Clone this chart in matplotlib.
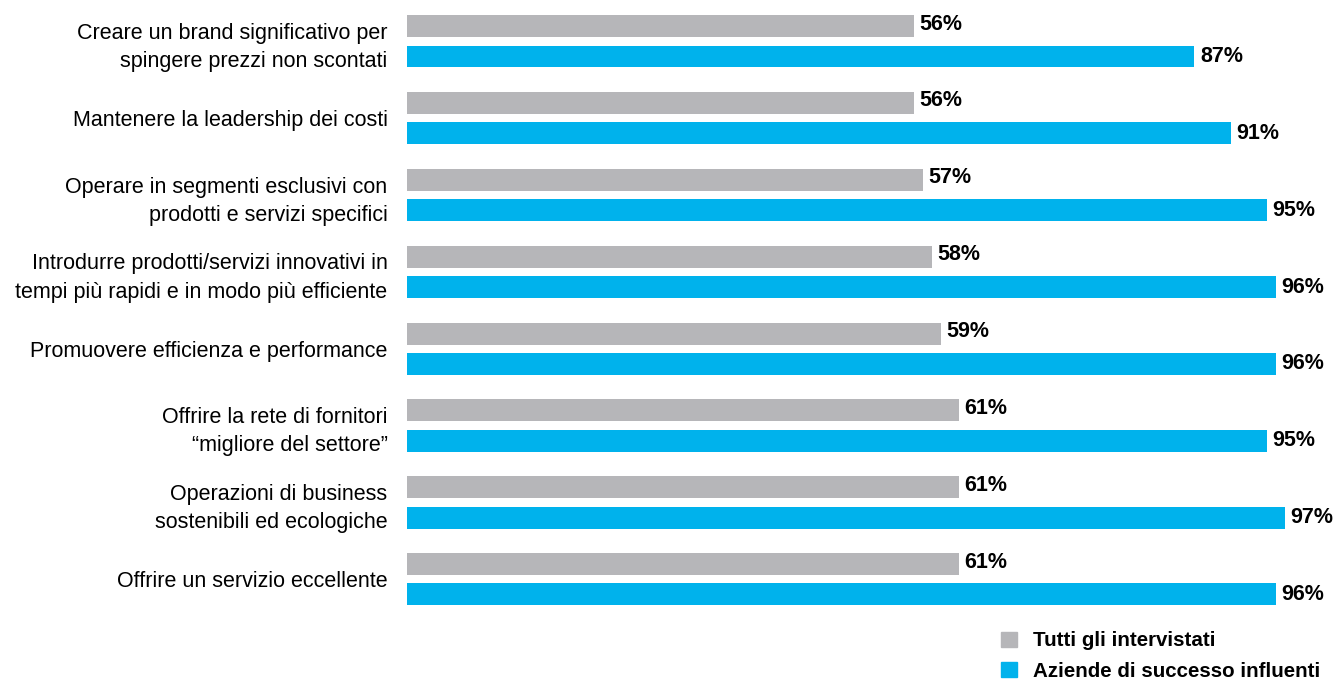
import matplotlib.pyplot as plt
from matplotlib.patches import Patch
import numpy as np

plt.rcParams["font.family"] = ["Liberation Sans", "DejaVu Sans"]

categories = [
    "Creare un brand significativo per\nspingere prezzi non scontati",
    "Mantenere la leadership dei costi",
    "Operare in segmenti esclusivi con\nprodotti e servizi specifici",
    "Introdurre prodotti/servizi innovativi in\ntempi più rapidi e in modo più efficiente",
    "Promuovere efficienza e performance",
    "Offrire la rete di fornitori\n\u201cmigliore del settore\u201d",
    "Operazioni di business\nsostenibili ed ecologiche",
    "Offrire un servizio eccellente",
]
tutti = [56, 56, 57, 58, 59, 61, 61, 61]
aziende = [87, 91, 95, 96, 96, 95, 97, 96]
series_names = ["Tutti gli intervistati", "Aziende di successo influenti"]

GRAY = "#b6b6b9"
BLUE = "#00b2ec"
FS = 15.5

W, H = 1338, 681
fig = plt.figure(figsize=(W / 100, H / 100), dpi=100)
ax = fig.add_axes([407 / W, 1 - 620 / H, 905 / W, 620 / H])

y = np.arange(len(categories))
off = 0.197
bh = 0.285
ax.barh(y - off, tutti, height=bh, color=GRAY)
ax.barh(y + off, aziende, height=bh, color=BLUE)

for yi, v in zip(y - off, tutti):
    ax.annotate(f"{v}%", xy=(v, yi), xytext=(4, 1.5), textcoords="offset points",
                va="center", ha="left", fontsize=FS, fontweight="bold")
for yi, v in zip(y + off, aziende):
    ax.annotate(f"{v}%", xy=(v, yi), xytext=(4, 0), textcoords="offset points",
                va="center", ha="left", fontsize=FS, fontweight="bold")

ax.set_xlim(0, 100)
ax.set_ylim(7.53, -0.538)
ax.set_yticks(y)
ax.set_yticklabels(categories, fontsize=FS, linespacing=1.45)
ax.tick_params(axis="y", length=0, pad=14)
ax.set_xticks([])
for s in ax.spines.values():
    s.set_visible(False)

handles = [Patch(color=GRAY), Patch(color=BLUE)]
leg = fig.legend(handles, series_names, loc="upper left",
                 bbox_to_anchor=(993 / W, 1 - 623 / H), frameon=False,
                 handlelength=0.75, handleheight=0.75, handletextpad=0.8,
                 labelspacing=0.55, borderaxespad=0,
                 prop={"size": 14.8, "weight": "bold"})

fig.savefig("out.png", dpi=100)
